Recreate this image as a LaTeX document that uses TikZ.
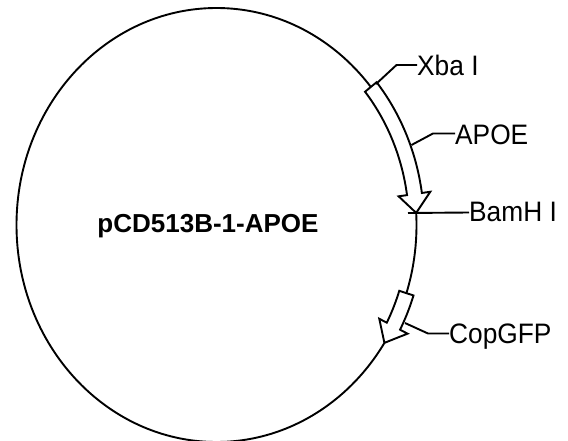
\documentclass[tikz,border=0pt]{standalone}
\usepackage{fontspec}
\setmainfont{Liberation Sans}
\begin{document}
\begin{tikzpicture}[x=1pt,y=-1pt,
  ring/.style={line width=1.9pt},
  feat/.style={line width=1.9pt, fill=white, line join=miter},
  lead/.style={line width=1.9pt},
  lbl/.style={anchor=base west, inner sep=0pt, yscale=1.07, transform shape, font=\fontsize{26.3}{30}\selectfont},
  title/.style={anchor=base, inner sep=0pt, font=\fontsize{26}{30}\selectfont\bfseries}]
\useasboundingbox (0,0) rectangle (568,441);
% backbone
\draw[ring] (216.5,225) ellipse [x radius=200pt, y radius=217pt];
\node[title] (name) at (208,233) {pCD513B-1-APOE};
% APOE arrow points
\coordinate (aho) at ({216.5+216*cos(8.2)},{225-233*sin(8.2)});
\coordinate (ahi) at ({216.5+184*cos(8.2)},{225-201*sin(8.2)});
\coordinate (atip) at ({216.5+200*cos(3.2)},{225-217*sin(3.2)});
\draw[feat] plot[domain=39.5:8.2,samples=40] ({216.5+207.5*cos(\x)},{225-224.5*sin(\x)})
  -- (aho) -- (atip) -- (ahi)
  -- plot[domain=8.2:39.5,samples=40] ({216.5+192.5*cos(\x)},{225-209.5*sin(\x)}) -- cycle;
% CopGFP arrow points
\coordinate (cho) at ({216.5+216*cos(-27.8)},{225-233*sin(-27.8)});
\coordinate (chi) at ({216.5+184*cos(-27.8)},{225-201*sin(-27.8)});
\coordinate (ctip) at ({216.5+200*cos(-32.9)},{225-217*sin(-32.9)});
\draw[feat] plot[domain=-18.3:-27.8,samples=30] ({216.5+207.5*cos(\x)},{225-224.5*sin(\x)})
  -- (cho) -- (ctip) -- (chi)
  -- plot[domain=-27.8:-18.3,samples=30] ({216.5+192.5*cos(\x)},{225-209.5*sin(\x)}) -- cycle;
% labels
\node[lbl] (xba) at (417,75.5) {Xba I};
\node[lbl] (apoe) at (455,144.5) {APOE};
\node[lbl] (bam) at (469,222) {BamH I};
\node[lbl] (cop) at (449,343) {CopGFP};
% leader lines
\coordinate (xs) at (376,84);
\coordinate (as) at (411.5,145);
\coordinate (bs) at (408,213);
\coordinate (cs) at (405,323);
\draw[lead] (xs) -- (396.5,65) -- (xba.base west |- 0,65);
\draw[lead] (as) -- (433,133.5) -- (apoe.base west |- 0,133.5);
\draw[lead] (bs) -- (bam.base west |- 0,212.5);
\draw[lead] (cs) -- (428,333.5) -- (cop.base west |- 0,333.5);
\end{tikzpicture}
\end{document}
